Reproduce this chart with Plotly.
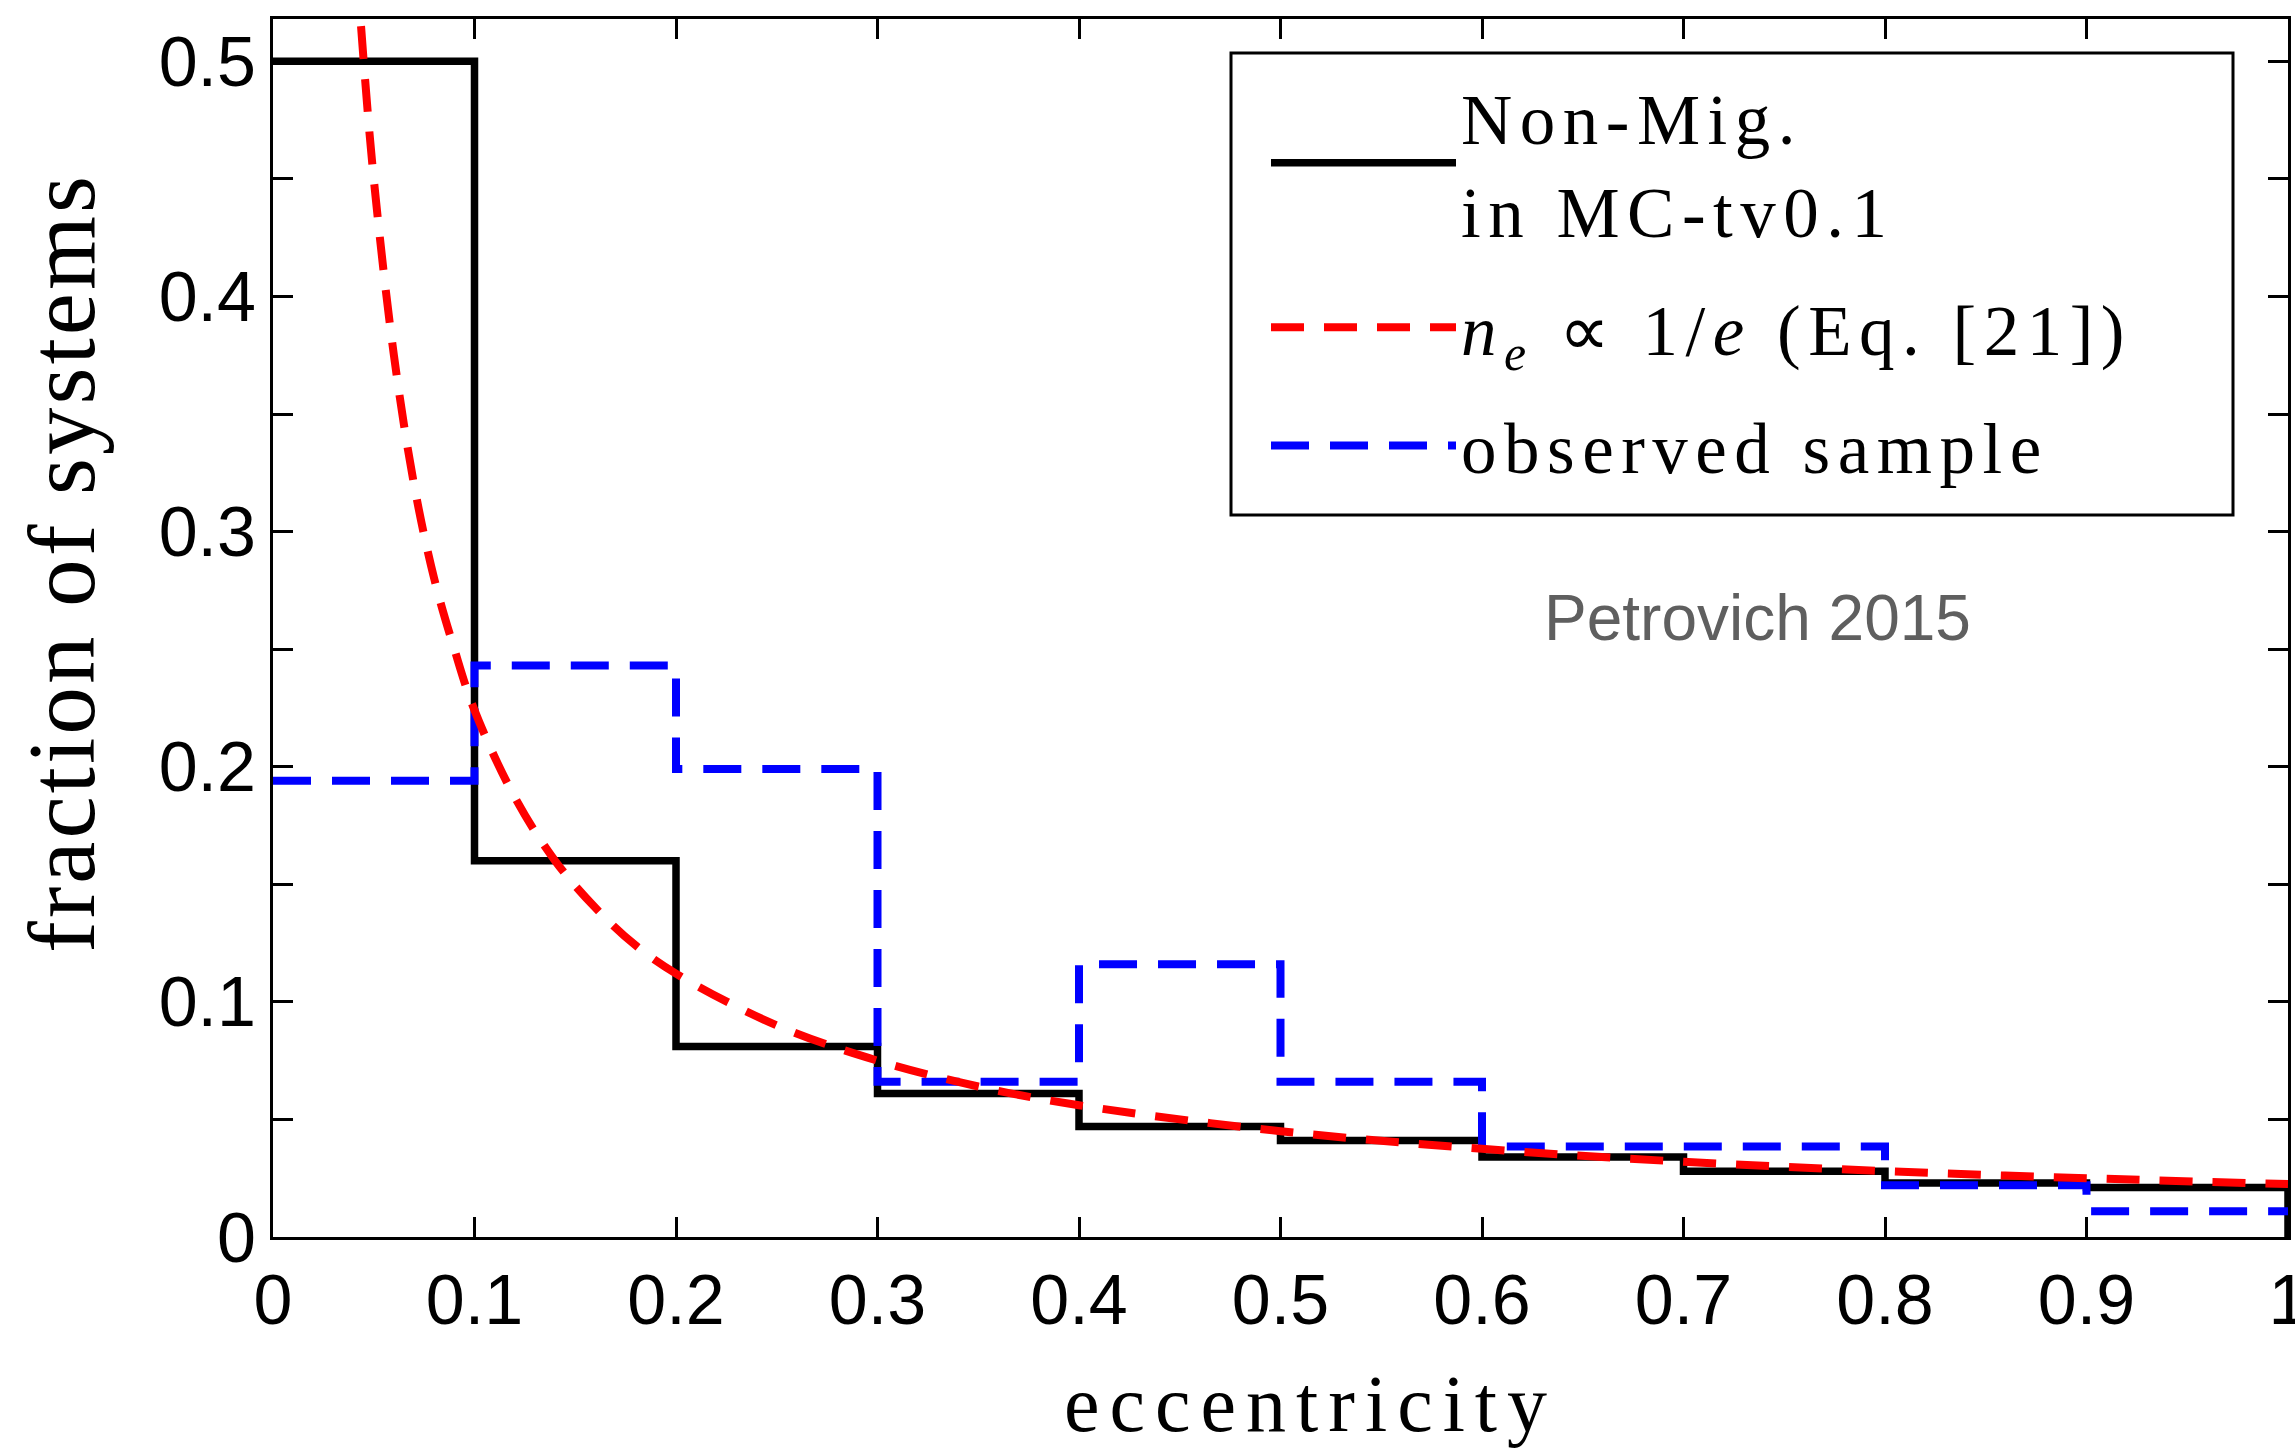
import plotly.graph_objects as go

# ---------------- data ----------------
bin_edges = [0.0, 0.1, 0.2, 0.3, 0.4, 0.5, 0.6, 0.7, 0.8, 0.9, 1.0]
non_mig_fraction = [0.500, 0.160, 0.081, 0.061, 0.047, 0.041, 0.034, 0.028, 0.023, 0.021]
observed_fraction = [0.194, 0.243, 0.199, 0.066, 0.116, 0.066, 0.0385, 0.0385, 0.022, 0.011]

model_e = [0.040, 0.045, 0.050, 0.060, 0.070, 0.080, 0.090, 0.100, 0.120, 0.140, 0.160,
           0.180, 0.200, 0.250, 0.300, 0.350, 0.400, 0.500, 0.600, 0.700, 0.800, 0.900, 1.000]
model_n = [0.560, 0.500, 0.450, 0.375, 0.320, 0.280, 0.250, 0.224, 0.187, 0.160, 0.140,
           0.124, 0.112, 0.090, 0.075, 0.064, 0.056, 0.045, 0.0375, 0.032, 0.028, 0.025, 0.0225]

x_tick_vals = [0, 0.1, 0.2, 0.3, 0.4, 0.5, 0.6, 0.7, 0.8, 0.9, 1.0]
x_tick_text = ["0", "0.1", "0.2", "0.3", "0.4", "0.5", "0.6", "0.7", "0.8", "0.9", "1"]
y_tick_vals = [0, 0.1, 0.2, 0.3, 0.4, 0.5]
y_tick_text = ["0", "0.1", "0.2", "0.3", "0.4", "0.5"]
y_minor_vals = [0.05, 0.15, 0.25, 0.35, 0.45]

x_title = "eccentricity"
y_title = "fraction of systems"
name_nonmig = ["Non-Mig.", "in MC-tv0.1"]
name_model = "<i>n</i><sub><i>e</i></sub> \u221d 1/<i>e</i> (Eq. [21])"
name_obs = "observed sample"
credit = "Petrovich 2015"

# ---------------- layout geometry ----------------
W, H = 2295, 1448
L, R, T, B = 273, 2288, 19, 1237
PW, PH = R - L, B - T


def px_x(p):
    return (p - L) / PW


def px_y(p):
    return 1 - (p - T) / PH


def stairs(edges, vals, close=False):
    xs = list(edges)
    ys = list(vals) + [vals[-1]]
    if close:
        xs.append(edges[-1])
        ys.append(0)
    return xs, ys


def spaced(txt, sp):
    return '<span style="letter-spacing:%spx">%s</span>' % (sp, txt)


SERIF = "Liberation Serif, Times New Roman, serif"
SANS_N = "Liberation Sans Narrow, Arial Narrow, Liberation Sans, Arial, sans-serif"
LEG_SP = 7.5

fig = go.Figure()

bx, by = stairs(bin_edges, non_mig_fraction, close=True)
fig.add_trace(go.Scatter(
    x=bx, y=by, mode="lines",
    line=dict(color="black", width=7.5, shape="hv"),
    name="<br>".join(spaced(t, LEG_SP) for t in name_nonmig),
    legendgroup="a", legendrank=1,
))

ox, oy = stairs(bin_edges, observed_fraction)
fig.add_trace(go.Scatter(
    x=ox, y=oy, mode="lines",
    line=dict(color="#0000ff", width=8, shape="hv", dash="38px,21px"),
    name=spaced(name_obs, LEG_SP),
    legendgroup="c", legendrank=3,
))

fig.add_trace(go.Scatter(
    x=model_e, y=model_n, mode="lines",
    line=dict(color="#ff0000", width=8, shape="spline", smoothing=1, dash="33px,20px"),
    name=spaced(name_model, LEG_SP),
    legendgroup="b", legendrank=2,
))

axis_common = dict(
    ticks="inside", ticklen=20, tickwidth=2.5, tickcolor="black",
    showline=True, linecolor="black", linewidth=3, mirror="allticks",
    showgrid=False, zeroline=False, ticklabeloverflow="allow", automargin=False,
    tickfont=dict(family=SANS_N, size=70, color="black"),
)

fig.update_layout(
    width=W, height=H, autosize=False,
    margin=dict(l=L, r=W - R, t=T, b=H - B, pad=0, autoexpand=False),
    paper_bgcolor="white", plot_bgcolor="white",
    xaxis=dict(range=[0, 1], tickvals=x_tick_vals, ticktext=x_tick_text, **axis_common),
    yaxis=dict(range=[0, 0.518], tickvals=y_tick_vals, ticktext=y_tick_text,
               minor=dict(tickvals=y_minor_vals, ticks="inside", ticklen=20,
                          tickwidth=2.5, tickcolor="black", showgrid=False),
               **axis_common),
    showlegend=True,
    legend=dict(
        x=px_x(1266), xanchor="left", y=px_y(64), yanchor="top",
        bgcolor="rgba(0,0,0,0)", borderwidth=0,
        traceorder="grouped", tracegroupgap=23, itemwidth=185,
        font=dict(family=SERIF, size=71, color="black"),
    ),
    shapes=[dict(
        type="rect", xref="paper", yref="paper",
        x0=px_x(1231), x1=px_x(2233), y0=px_y(515), y1=px_y(53),
        line=dict(color="black", width=3), fillcolor="white", layer="below",
    )],
    annotations=[
        dict(text=spaced(x_title, 10), xref="paper", yref="paper",
             x=px_x(1310), y=px_y(1404), xanchor="center", yanchor="middle",
             showarrow=False, font=dict(family=SERIF, size=80, color="black")),
        dict(text=spaced(y_title, 3), xref="paper", yref="paper", textangle=-90,
             x=px_x(62), y=px_y(563), xanchor="center", yanchor="middle",
             showarrow=False, font=dict(family=SERIF, size=95, color="black")),
        dict(text=credit, xref="paper", yref="paper",
             x=px_x(1757), y=px_y(618), xanchor="center", yanchor="middle",
             showarrow=False, font=dict(family="Liberation Sans, Arial, sans-serif", size=64, color="#5f5f5f")),
    ],
)

fig.write_html("out.html")
